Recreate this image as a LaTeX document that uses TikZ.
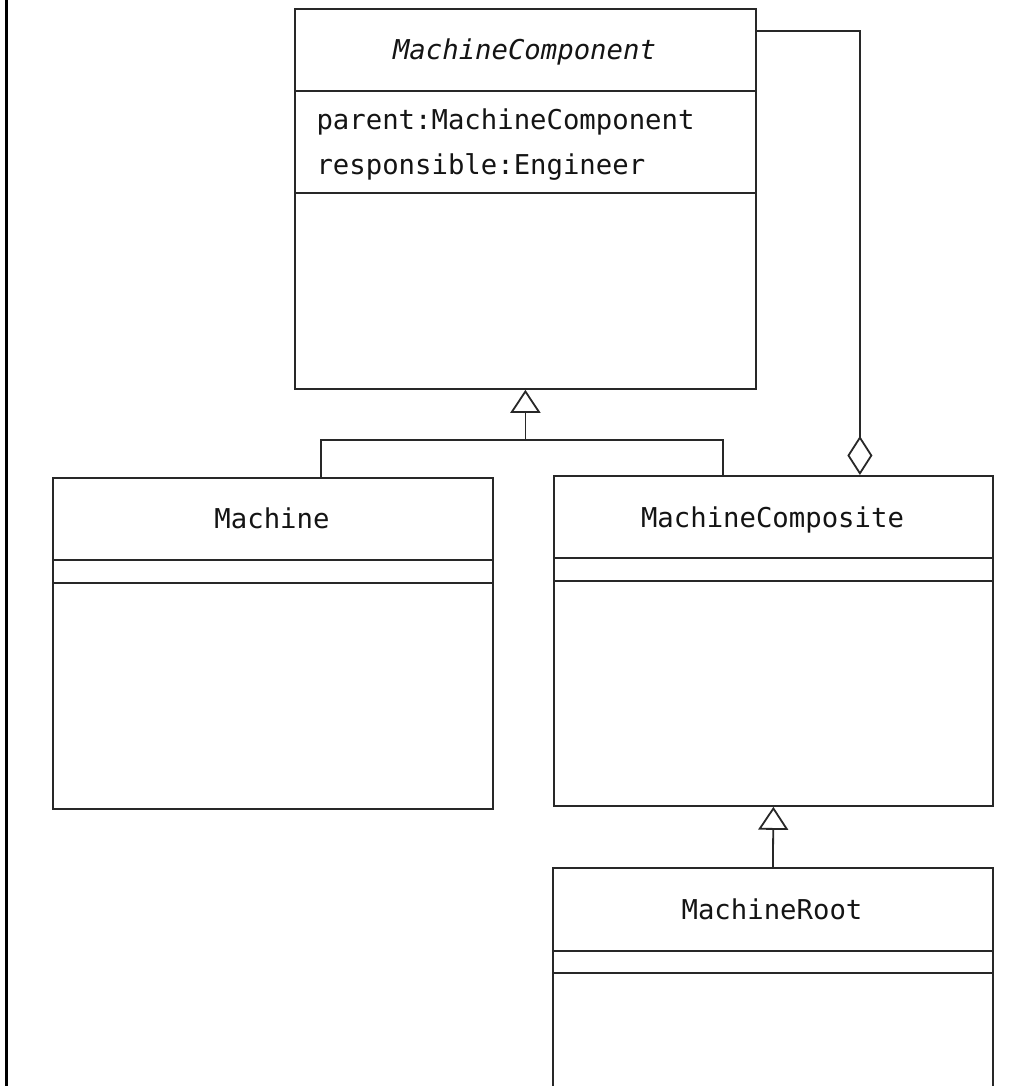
\documentclass[tikz,border=0pt]{standalone}
\usepackage{fontspec}
\setmonofont{DejaVu Sans Mono}
\usepackage{xcolor}
\usepackage{tikz}
\usetikzlibrary{arrows.meta,positioning}
\definecolor{umlline}{RGB}{40,40,40}
\definecolor{umltext}{RGB}{20,20,20}

\tikzset{
  umlclass/.style={draw=umlline,line width=1.8pt,inner sep=0pt,anchor=north west},
  divider/.style={draw=umlline,line width=1.8pt},
  classname/.style={anchor=base,text=umltext},
  attrtext/.style={anchor=base west,text=umltext},
  genarrow/.style={draw=umlline,line width=1.8pt,-{Triangle[open,length=23pt,width=30pt]}},
  aggrarrow/.style={draw=umlline,line width=1.8pt,-{Diamond[open,length=39pt,width=25pt]}},
  assocline/.style={draw=umlline,line width=1.8pt}
}

\begin{document}
\begin{tikzpicture}[x=1pt,y=-1pt,font=\ttfamily\fontsize{27.3}{33}\selectfont]
  \useasboundingbox (0,0) rectangle (1028,1086);
  \clip (0,0) rectangle (1028,1086);
  % page edge on the left
  \fill[black] (5,0) rectangle (8,1086);
  % abstract component
  \node[umlclass,minimum width=461pt,minimum height=380pt] (component) at (294,8) {};
  \draw[divider] (component.west |- 0,91) -- (component.east |- 0,91);
  \draw[divider] (component.west |- 0,193) -- (component.east |- 0,193);
  \node[classname] (component-name) at (524.5,60) {\itshape MachineComponent};
  \node[attrtext] (component-parent) at (313,130) {parent:MachineComponent};
  \node[attrtext] (component-resp) at (313,175) {responsible:Engineer};
  % leaf
  \node[umlclass,minimum width=440pt,minimum height=331pt] (machine) at (52,477) {};
  \draw[divider] (machine.west |- 0,560) -- (machine.east |- 0,560);
  \draw[divider] (machine.west |- 0,583) -- (machine.east |- 0,583);
  \node[classname] (machine-name) at (272,528) {Machine};
  % composite
  \node[umlclass,minimum width=439pt,minimum height=330pt] (composite) at (553,475) {};
  \draw[divider] (composite.west |- 0,558) -- (composite.east |- 0,558);
  \draw[divider] (composite.west |- 0,581) -- (composite.east |- 0,581);
  \node[classname] (composite-name) at (772.5,527) {MachineComposite};
  % root, runs past the bottom edge
  \node[umlclass,minimum width=440pt,minimum height=232pt] (root) at (552,867) {};
  \draw[divider] (root.west |- 0,951) -- (root.east |- 0,951);
  \draw[divider] (root.west |- 0,973) -- (root.east |- 0,973);
  \node[classname] (root-name) at (772,919) {MachineRoot};
  % generalization into the component
  \coordinate (gen-join) at (component.south |- 0,440);
  \draw[assocline] ([xshift=269pt]machine.north west) |- (gen-join) -| ([xshift=170pt]composite.north west);
  \draw[genarrow] (gen-join) -- (component.south);
  % composite owns components
  \draw[aggrarrow] ([yshift=-23pt]component.north east) -| ([xshift=86.5pt]composite.north);
  % root is a composite
  \draw[genarrow] (root.north) -- (composite.south);
\end{tikzpicture}
\end{document}
